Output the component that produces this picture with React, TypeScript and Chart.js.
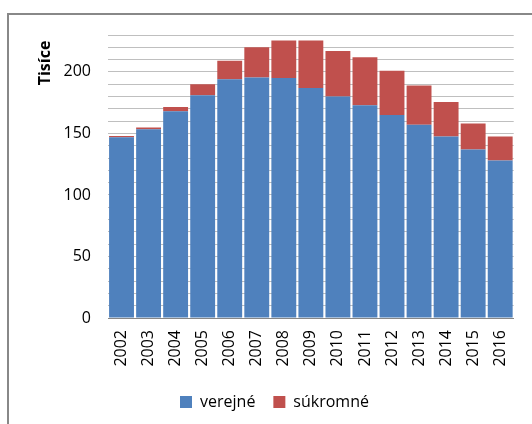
import React, { useEffect, useRef } from "react";
import { Chart, registerables } from "chart.js";

Chart.register(...registerables);

const categories = ["2002", "2003", "2004", "2005", "2006", "2007", "2008", "2009", "2010", "2011", "2012", "2013", "2014", "2015", "2016"];
const verejne = [147, 153.5, 168, 181, 194, 195.5, 195, 187, 180, 173, 165, 157, 147.5, 137, 128];
const sukromne = [1, 1.3, 3.5, 9, 15, 24.5, 30.5, 38.5, 37, 39, 36, 32, 28, 21, 19.5];
const seriesNames = ["verejné", "súkromné"];
const axisTitle = "Tisíce";

const FONT = "'Open Sans', 'Liberation Sans', Arial, sans-serif";

const titlePlugin = {
  id: "yTitle",
  afterDraw(chart: any) {
    const ctx = chart.ctx;
    ctx.save();
    ctx.font = `bold 16px ${FONT}`;
    ctx.fillStyle = "#000";
    ctx.textAlign = "center";
    ctx.textBaseline = "middle";
    ctx.translate(45, 63);
    ctx.rotate(-Math.PI / 2);
    ctx.fillText(axisTitle, 0, 0);
    ctx.restore();
  },
};

export default function App() {
  const ref = useRef<HTMLCanvasElement>(null);
  useEffect(() => {
    document.body.style.margin = "0";
    const chart = new Chart(ref.current as HTMLCanvasElement, {
      type: "bar",
      data: {
        labels: categories,
        datasets: [
          { label: seriesNames[0], data: verejne, backgroundColor: "#4F81BD", borderWidth: 0 },
          { label: seriesNames[1], data: sukromne, backgroundColor: "#C0504D", borderWidth: 0 },
        ],
      },
      plugins: [titlePlugin],
      options: {
        animation: false,
        responsive: false,
        layout: { padding: { left: 35, right: 18, top: 35, bottom: 4 } },
        datasets: { bar: { barPercentage: 0.92, categoryPercentage: 1 } },
        plugins: {
          legend: {
            position: "bottom",
            labels: {
              boxWidth: 12,
              boxHeight: 12,
              padding: 18,
              color: "#000",
              font: { family: FONT, size: 16 },
            },
          },
          tooltip: { enabled: false },
        },
        scales: {
          x: {
            stacked: true,
            grid: { display: false, drawTicks: false },
            border: { display: true, color: "#868686", width: 1 },
            ticks: {
              color: "#000",
              minRotation: 90,
              maxRotation: 90,
              padding: 12,
              autoSkip: false,
              font: { family: FONT, size: 16 },
            },
            afterFit: (s: any) => {
              s.height = 58;
            },
          },
          y: {
            stacked: true,
            min: 0,
            max: 230,
            grid: { color: "#bfbfbf", drawTicks: false },
            border: { display: false },
            ticks: {
              stepSize: 10,
              autoSkip: false,
              padding: 17,
              color: "#000",
              font: { family: FONT, size: 16 },
              callback: (v: any) => (Number(v) % 50 === 0 ? String(v) : ""),
            },
            afterFit: (s: any) => {
              s.width = 73;
            },
          },
        },
      },
    });
    return () => chart.destroy();
  }, []);
  return (
    <div style={{ position: "relative", width: 532, height: 424, overflow: "hidden", background: "#fff" }}>
      <div
        style={{
          position: "absolute",
          left: 7,
          top: 13,
          width: 600,
          height: 500,
          border: "2px solid #888888",
          boxSizing: "border-box",
        }}
      />
      <canvas ref={ref} width={532} height={424} style={{ position: "absolute", left: 0, top: 0 }} />
    </div>
  );
}
